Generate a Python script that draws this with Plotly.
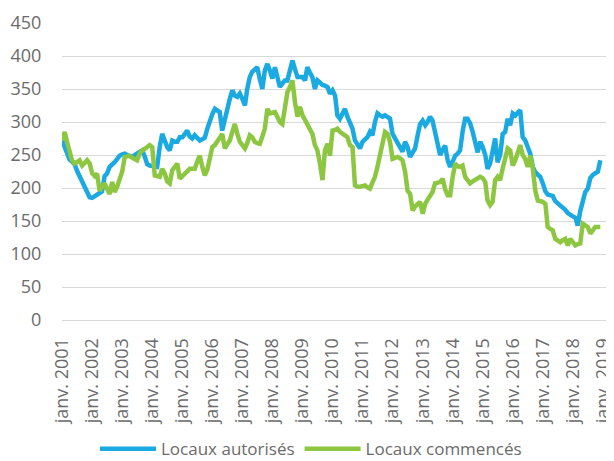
import plotly.graph_objects as go
import pandas as pd

# Monthly values, Jan 2001 .. Dec 2018
months = pd.date_range("2001-01-01", periods=216, freq="MS")

locaux_autorises = [
    272, 262, 249, 243, 240, 236, 226, 218, 212, 205, 196, 186,
    185, 188, 189, 193, 195, 218, 222, 232, 235, 239, 244, 249,
    251, 252, 250, 249, 247, 250, 252, 255, 257, 248, 236, 234,
    233, 232, 232, 262, 282, 272, 262, 257, 272, 270, 270, 277,
    277, 282, 287, 278, 275, 280, 275, 272, 274, 276, 290, 302,
    312, 320, 318, 315, 287, 305, 318, 335, 348, 340, 338, 343,
    335, 325, 350, 368, 376, 380, 383, 365, 350, 378, 388, 378,
    366, 383, 368, 353, 358, 363, 363, 378, 393, 380, 368, 368,
    368, 363, 383, 375, 368, 350, 363, 360, 356, 355, 353, 343,
    348, 340, 310, 305, 312, 320, 308, 300, 290, 272, 265, 260,
    270, 274, 277, 285, 280, 300, 313, 310, 308, 310, 308, 305,
    282, 275, 268, 260, 255, 270, 262, 247, 255, 260, 280, 297,
    302, 295, 300, 308, 302, 282, 265, 250, 258, 264, 242, 232,
    240, 249, 252, 257, 285, 305, 305, 298, 285, 272, 254, 270,
    262, 250, 229, 237, 258, 275, 239, 250, 282, 285, 305, 295,
    313, 310, 314, 318, 277, 272, 262, 252, 232, 224, 220, 217,
    207, 195, 190, 189, 188, 180, 177, 174, 170, 167, 162, 159,
    157, 155, 143, 165, 180, 194, 199, 215, 220, 222, 225, 242,
]

locaux_commences = [
    272, 285, 270, 255, 242, 237, 240, 242, 234, 238, 242, 237,
    222, 218, 222, 196, 203, 207, 199, 191, 209, 194, 202, 212,
    225, 247, 248, 249, 246, 244, 242, 252, 257, 259, 262, 265,
    262, 219, 218, 217, 229, 222, 210, 207, 227, 232, 237, 214,
    218, 222, 225, 229, 229, 229, 240, 249, 232, 219, 228, 245,
    262, 265, 270, 275, 282, 260, 266, 272, 285, 297, 282, 270,
    265, 260, 268, 280, 277, 270, 268, 267, 278, 290, 320, 313,
    314, 315, 308, 300, 297, 325, 345, 353, 363, 330, 308, 323,
    310, 303, 297, 290, 282, 265, 257, 237, 212, 257, 267, 249,
    287, 288, 290, 285, 282, 280, 277, 265, 262, 204, 202, 202,
    203, 204, 201, 199, 208, 217, 232, 250, 262, 285, 282, 270,
    244, 246, 247, 245, 242, 225, 196, 191, 166, 172, 176, 179,
    161, 176, 182, 189, 194, 207, 208, 209, 214, 198, 189, 189,
    217, 237, 233, 232, 234, 217, 212, 207, 210, 212, 214, 217,
    215, 209, 181, 174, 179, 212, 217, 212, 230, 247, 260, 257,
    234, 242, 252, 265, 250, 244, 232, 249, 230, 196, 181, 180,
    179, 176, 141, 138, 136, 123, 120, 118, 121, 123, 113, 123,
    118, 113, 115, 116, 146, 143, 141, 131, 136, 141, 141, 141,
]

tick_years = list(range(2001, 2020))
tick_vals = [f"{y}-01-01" for y in tick_years]
tick_text = [f"janv. {y}" for y in tick_years]
y_ticks = list(range(0, 451, 50))

blue = "#1AA9E0"
green = "#8DC641"
text_color = "#6b6b6b"
font_family = "Open Sans, Noto Sans, sans-serif"

fig = go.Figure()
fig.add_trace(go.Scatter(
    x=months, y=locaux_autorises, mode="lines", name="Locaux autorisés",
    line=dict(color=blue, width=4.5),
))
fig.add_trace(go.Scatter(
    x=months, y=locaux_commences, mode="lines", name="Locaux commencés",
    line=dict(color=green, width=4.5),
))

# the page body has an 8px margin, so the figure is 8px smaller
fig.update_layout(
    width=606, height=453,
    margin=dict(l=54, r=8, t=15, b=141, autoexpand=False),
    paper_bgcolor="white", plot_bgcolor="white",
    font=dict(family=font_family, size=17, color=text_color),
    showlegend=True,
    legend=dict(
        orientation="h", xref="container", yref="container",
        x=0.5, xanchor="center", y=0.026, yanchor="middle",
        font=dict(size=17, color=text_color),
        itemwidth=56, traceorder="normal",
    ),
    xaxis=dict(
        range=["2000-12-30", "2019-02-08"],
        tickmode="array", tickvals=tick_vals, ticktext=tick_text,
        tickangle=-90, showgrid=False, zeroline=False, showline=False,
        ticks="outside", ticklen=10, tickcolor="rgba(0,0,0,0)",
        tickfont=dict(size=18, color=text_color),
        ticklabeloverflow="allow",
        automargin=False,
    ),
    yaxis=dict(
        range=[0, 450], tickmode="array", tickvals=y_ticks,
        showgrid=True, gridcolor="#d9d9d9", gridwidth=1.3,
        zeroline=True, zerolinecolor="#d9d9d9", zerolinewidth=1.3,
        showline=False, ticks="outside", ticklen=16,
        tickcolor="rgba(0,0,0,0)",
        tickfont=dict(size=18, color=text_color),
        automargin=False,
    ),
)

fig.write_html("out.html")
